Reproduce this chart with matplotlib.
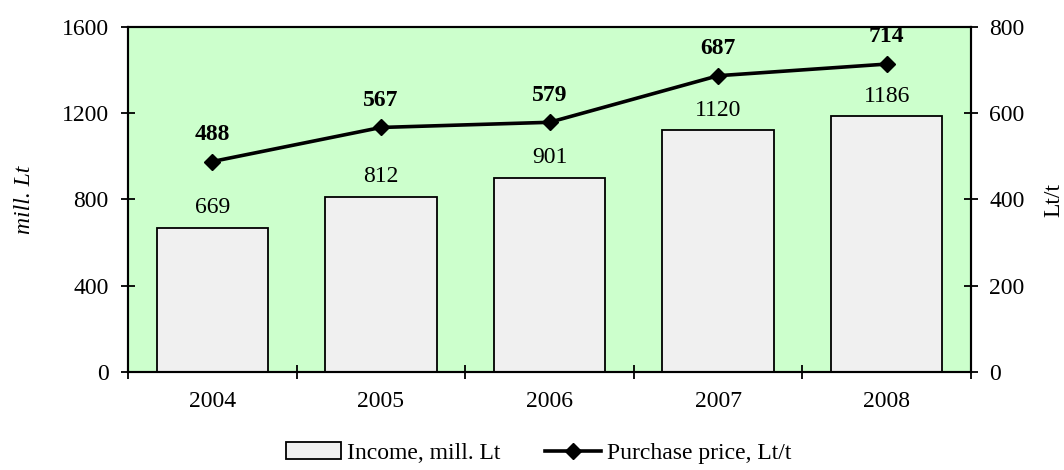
import numpy as np
import matplotlib.pyplot as plt

years = ["2004", "2005", "2006", "2007", "2008"]
income = [669, 812, 901, 1120, 1186]
price = [488, 567, 579, 687, 714]

plt.rcParams['font.family'] = ['Liberation Serif', 'DejaVu Serif']
plt.rcParams['font.size'] = 17

fig = plt.figure(figsize=(10.64, 4.70), dpi=100)
ax = fig.add_axes([0.1203, 0.2085, 0.7923, 0.7341])
ax.set_facecolor('#ccffcc')

x = np.arange(len(years))
bars = ax.bar(x, income, width=0.66, color='#f0f0f0', edgecolor='black',
              linewidth=1.3, label='Income, mill. Lt', zorder=2)
for xi, v in zip(x, income):
    ax.annotate(str(v), (xi, v), xytext=(0, 7), textcoords='offset points',
                ha='center', va='bottom')

ax.set_xlim(-0.5, len(years) - 0.5)
ax.set_ylim(0, 1600)
ax.set_yticks([0, 400, 800, 1200, 1600])
ax.set_xticks(np.arange(-0.5, len(years), 1.0))
ax.set_xticklabels([])
ax.set_xticks(x, minor=True)
ax.set_xticklabels(years, minor=True)
ax.tick_params(axis='x', which='major', direction='inout', length=10, width=1.3)
ax.tick_params(axis='x', which='minor', length=0, pad=14)
ax.tick_params(axis='y', direction='inout', length=10, width=1.3, pad=9)
for s in ax.spines.values():
    s.set_linewidth(1.5)

ax2 = ax.twinx()
line, = ax2.plot(x, price, color='black', linewidth=2.6, marker='D',
                 markersize=8, label='Purchase price, Lt/t', zorder=3)
for xi, v in zip(x, price):
    ax2.annotate(str(v), (xi, v), xytext=(0, 12), textcoords='offset points',
                 ha='center', va='bottom', fontweight='bold')
ax2.set_ylim(0, 800)
ax2.set_yticks([0, 200, 400, 600, 800])
ax2.tick_params(axis='y', direction='inout', length=10, width=1.3, pad=8)
for s in ax2.spines.values():
    s.set_linewidth(1.5)

# axis titles placed on the figure so they sit where the reference has them
fig.text(25 / 1064, 0.575, 'mill. Lt', rotation=90, fontstyle='italic',
         ha='center', va='center')
fig.text(1054 / 1064, 0.575, 'Lt/t', rotation=90, ha='center', va='center')

ax.legend([bars, line], ['Income, mill. Lt', 'Purchase price, Lt/t'],
          loc='center', bbox_to_anchor=(0.487, -0.235), ncol=2, frameon=False,
          fontsize=17, handlelength=2.35, handletextpad=0.25, columnspacing=1.9)

fig.savefig('out.png', dpi=100)
